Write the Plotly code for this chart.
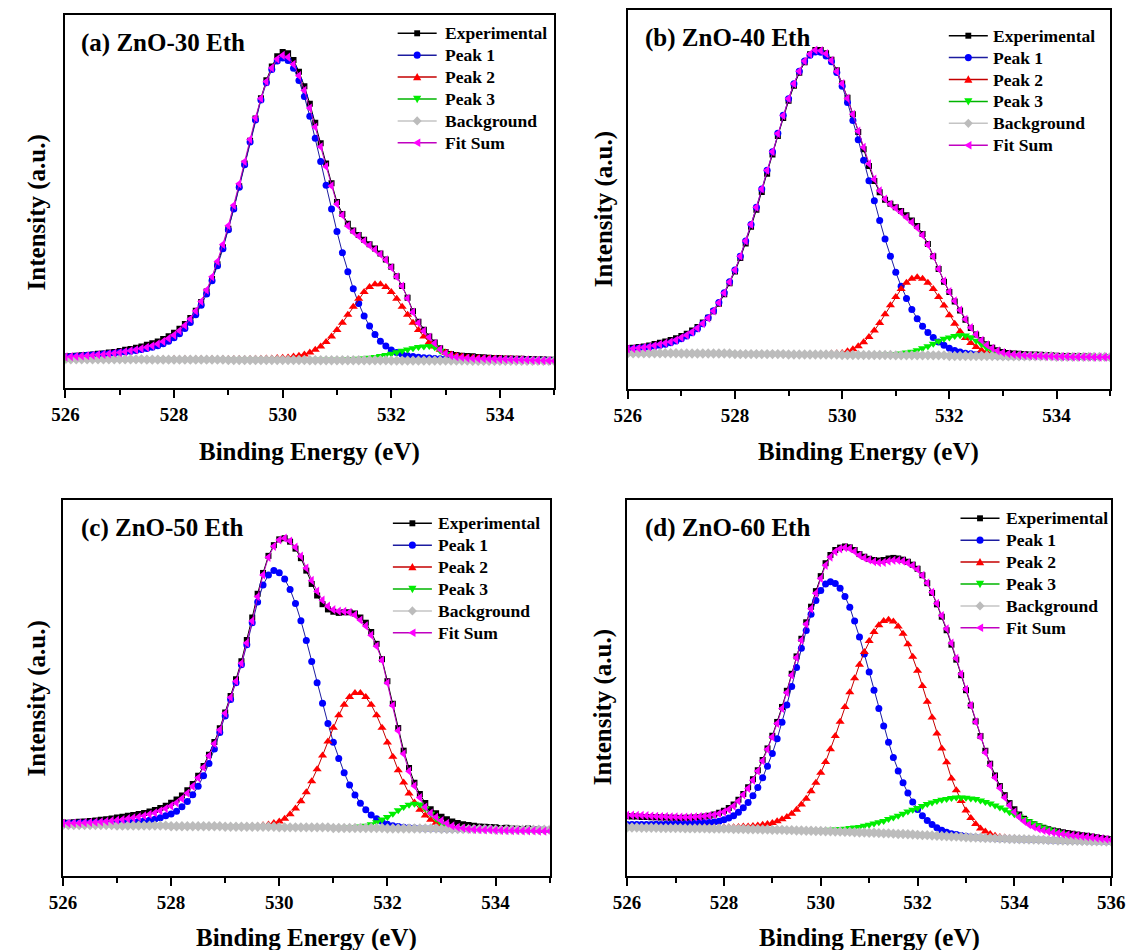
import plotly.graph_objects as go

FONT = "Liberation Serif, Times New Roman, serif"

# Binding-energy scan grids (0.1 eV step)
ENERGY_535 = [round(526 + 0.1 * i, 1) for i in range(91)]
ENERGY_536 = [round(526 + 0.1 * i, 1) for i in range(101)]

X_TICKS_535 = [526, 528, 530, 532, 534]
X_TICKS_536 = [526, 528, 530, 532, 534, 536]

SERIES_NAMES = ["Experimental", "Peak 1", "Peak 2", "Peak 3", "Background", "Fit Sum"]
PANEL_TITLES = ["(a) ZnO-30 Eth", "(b) ZnO-40 Eth", "(c) ZnO-50 Eth", "(d) ZnO-60 Eth"]
X_TITLE = "Binding Energy (eV)"
Y_TITLE = "Intensity (a.u.)"

# ---------------- (a) ZnO-30 Eth ----------------
EXP_A = [1.2, 1.2, 1.4, 1.5, 1.6, 1.8, 2.0, 2.1, 2.4, 2.6,
         2.9, 3.3, 3.6, 4.0, 4.4, 4.9, 5.4, 6.0, 6.8, 7.7,
         8.8, 10.1, 11.7, 13.6, 16.0, 18.8, 22.2, 26.3, 31.1, 36.6,
         42.6, 49.3, 56.4, 63.8, 71.2, 78.4, 85.0, 90.8, 95.3, 98.6,
         100.0, 99.6, 97.4, 93.6, 88.9, 83.2, 77.0, 70.4, 63.8, 57.4,
         51.3, 47.4, 44.2, 42.0, 40.6, 39.0, 37.6, 36.2, 34.6, 32.6,
         30.3, 27.2, 24.0, 20.2, 15.8, 12.4, 9.8, 7.6, 5.7, 3.8,
         2.6, 1.9, 1.6, 1.4, 1.3, 1.2, 1.0, 0.9, 0.7, 0.6,
         0.6, 0.5, 0.5, 0.4, 0.4, 0.3, 0.3, 0.2, 0.2, 0.1,
         0.1]
P1_A = [1.0, 1.1, 1.2, 1.3, 1.5, 1.6, 1.7, 1.9, 2.0, 2.2,
        2.4, 2.6, 2.8, 3.1, 3.4, 3.7, 4.1, 4.6, 5.3, 6.1,
        7.2, 8.5, 10.2, 12.2, 14.7, 17.8, 21.4, 25.7, 30.6, 36.1,
        42.3, 49.0, 56.1, 63.4, 70.8, 77.9, 84.4, 90.0, 94.3, 97.1,
        98.0, 97.2, 94.7, 90.7, 85.5, 79.1, 72.0, 64.4, 56.7, 49.0,
        41.7, 34.8, 28.6, 23.1, 18.3, 14.3, 11.0, 8.3, 6.1, 4.5,
        3.2, 2.4, 1.8, 1.4, 1.1, 0.9, 0.7, 0.6, 0.5, 0.4,
        0.3, 0.3, 0.2, 0.2, 0.2, 0.1, 0.1, 0.1, 0.1, 0.1,
        0.1, 0.0, 0.0, 0.0, 0.0, 0.0, -0.1, -0.1, -0.1, -0.1,
        -0.2]
P2_A = [0.2, 0.2, 0.2, 0.2, 0.2, 0.2, 0.2, 0.2, 0.2, 0.2,
        0.2, 0.2, 0.2, 0.2, 0.2, 0.2, 0.2, 0.2, 0.2, 0.2,
        0.3, 0.3, 0.3, 0.3, 0.3, 0.3, 0.3, 0.3, 0.3, 0.3,
        0.3, 0.3, 0.3, 0.3, 0.3, 0.4, 0.4, 0.5, 0.5, 0.6,
        0.7, 0.8, 1.1, 1.4, 1.8, 2.4, 3.3, 4.4, 5.8, 7.6,
        9.7, 12.1, 14.7, 17.3, 19.9, 22.1, 23.7, 24.6, 24.6, 23.7,
        22.1, 19.9, 17.3, 14.7, 12.1, 9.7, 7.6, 5.8, 4.4, 3.3,
        2.4, 1.8, 1.4, 1.1, 0.8, 0.7, 0.6, 0.5, 0.5, 0.4,
        0.4, 0.3, 0.3, 0.2, 0.2, 0.1, 0.1, 0.0, 0.0, 0.0,
        -0.1]
P3_A = [0.2, 0.2, 0.2, 0.2, 0.2, 0.2, 0.2, 0.2, 0.2, 0.2,
        0.2, 0.2, 0.2, 0.2, 0.2, 0.2, 0.2, 0.2, 0.2, 0.2,
        0.1, 0.1, 0.1, 0.1, 0.1, 0.1, 0.1, 0.1, 0.1, 0.1,
        0.1, 0.1, 0.1, 0.1, 0.1, 0.1, 0.1, 0.1, 0.1, 0.1,
        0.0, 0.0, 0.0, 0.0, 0.0, 0.0, 0.1, 0.1, 0.1, 0.1,
        0.1, 0.1, 0.2, 0.3, 0.4, 0.5, 0.7, 1.0, 1.3, 1.6,
        2.0, 2.5, 3.0, 3.4, 3.8, 4.2, 4.4, 4.5, 4.1, 3.0,
        1.9, 1.0, 0.5, 0.3, 0.2, 0.1, 0.0, 0.0, 0.0, -0.1,
        -0.1, -0.1, -0.1, -0.2, -0.2, -0.2, -0.2, -0.2, -0.3, -0.3,
        -0.3]
BG_A = [0.2, 0.2, 0.2, 0.2, 0.2, 0.2, 0.2, 0.2, 0.2, 0.2,
        0.2, 0.2, 0.2, 0.2, 0.2, 0.1, 0.1, 0.1, 0.1, 0.1,
        0.1, 0.1, 0.1, 0.1, 0.1, 0.1, 0.1, 0.1, 0.1, 0.1,
        0.0, 0.0, 0.0, 0.0, 0.0, 0.0, 0.0, 0.0, 0.0, 0.0,
        0.0, 0.0, 0.0, 0.0, 0.0, -0.1, -0.1, -0.1, -0.1, -0.1,
        -0.1, -0.1, -0.1, -0.1, -0.1, -0.1, -0.1, -0.1, -0.1, -0.1,
        -0.2, -0.2, -0.2, -0.2, -0.2, -0.2, -0.2, -0.2, -0.2, -0.2,
        -0.2, -0.2, -0.2, -0.2, -0.2, -0.3, -0.3, -0.3, -0.3, -0.3,
        -0.3, -0.3, -0.3, -0.3, -0.3, -0.3, -0.3, -0.3, -0.3, -0.3,
        -0.3]
FIT_A = [1.0, 1.1, 1.2, 1.3, 1.4, 1.5, 1.7, 1.8, 2.0, 2.2,
         2.4, 2.7, 3.0, 3.3, 3.7, 4.1, 4.6, 5.2, 6.0, 7.0,
         8.1, 9.5, 11.2, 13.3, 15.9, 19.0, 22.7, 27.0, 32.0, 37.5,
         43.6, 50.2, 57.2, 64.4, 71.6, 78.6, 84.9, 90.4, 94.8, 97.7,
         98.9, 98.3, 96.0, 92.3, 87.5, 81.8, 75.6, 69.2, 62.8, 56.5,
         50.6, 47.0, 43.5, 41.6, 40.2, 38.6, 37.2, 35.8, 34.3, 32.5,
         30.0, 27.0, 24.0, 20.0, 15.5, 12.0, 9.4, 7.4, 5.4, 3.4,
         2.1, 1.4, 1.0, 0.8, 0.6, 0.5, 0.4, 0.4, 0.3, 0.3,
         0.2, 0.2, 0.1, 0.1, 0.0, 0.0, -0.1, -0.1, -0.2, -0.2,
         -0.3]

# ---------------- (b) ZnO-40 Eth ----------------
EXP_B = [2.6, 2.7, 2.9, 3.1, 3.4, 3.9, 4.3, 4.7, 5.2, 5.8,
         6.5, 7.3, 8.3, 9.5, 10.9, 12.5, 14.6, 17.1, 20.2, 23.8,
         27.6, 32.0, 36.8, 42.2, 47.8, 53.6, 59.6, 65.9, 71.9, 77.8,
         83.4, 88.3, 92.6, 96.0, 98.6, 100.0, 100.0, 99.0, 96.8, 93.4,
         89.1, 84.4, 79.0, 73.2, 67.6, 62.1, 57.2, 53.5, 51.1, 49.8,
         48.6, 47.4, 46.0, 44.3, 42.5, 39.9, 36.6, 32.6, 28.4, 24.3,
         20.9, 17.8, 14.9, 11.8, 9.1, 7.0, 5.2, 3.8, 2.7, 1.9,
         1.3, 1.0, 0.8, 0.7, 0.6, 0.5, 0.5, 0.4, 0.3, 0.2,
         0.1, 0.0, 0.0, -0.1, -0.1, -0.2, -0.2, -0.3, -0.3, -0.3,
         -0.4]
P1_B = [2.3, 2.3, 2.5, 2.7, 2.9, 3.2, 3.5, 3.8, 4.3, 4.9,
        5.6, 6.5, 7.6, 8.9, 10.5, 12.5, 14.8, 17.5, 20.7, 24.3,
        28.1, 32.6, 37.6, 43.0, 48.6, 54.6, 60.7, 66.8, 72.8, 78.7,
        84.1, 89.0, 93.1, 96.4, 98.3, 99.4, 99.3, 98.1, 96.2, 92.7,
        88.2, 82.9, 77.0, 70.7, 64.0, 57.3, 50.7, 44.3, 38.2, 32.6,
        27.4, 22.8, 18.8, 15.2, 12.2, 9.7, 7.7, 6.0, 4.6, 3.5,
        2.5, 1.8, 1.3, 0.9, 0.7, 0.5, 0.3, 0.2, 0.1, 0.0,
        -0.1, -0.1, -0.1, -0.1, -0.1, -0.1, -0.1, -0.1, -0.1, -0.1,
        -0.3, -0.3, -0.3, -0.3, -0.3, -0.3, -0.3, -0.3, -0.3, -0.3,
        -0.3]
P2_B = [0.9, 0.9, 0.9, 0.9, 0.9, 0.9, 0.9, 0.9, 0.9, 0.9,
        0.8, 0.8, 0.8, 0.8, 0.8, 0.8, 0.8, 0.8, 0.8, 0.8,
        0.6, 0.6, 0.6, 0.6, 0.6, 0.6, 0.6, 0.6, 0.6, 0.6,
        0.5, 0.5, 0.5, 0.5, 0.5, 0.5, 0.5, 0.6, 0.8, 0.9,
        1.0, 1.5, 2.2, 3.2, 4.5, 6.2, 8.3, 10.8, 13.6, 16.6,
        19.3, 21.9, 23.9, 25.2, 25.7, 25.2, 23.9, 21.9, 19.3, 16.5,
        13.3, 10.5, 8.0, 5.9, 4.2, 2.9, 1.9, 1.2, 0.7, 0.4,
        0.2, 0.0, -0.1, -0.1, -0.1, -0.1, -0.1, -0.1, -0.1, -0.1,
        -0.3, -0.3, -0.3, -0.3, -0.3, -0.3, -0.3, -0.3, -0.3, -0.3,
        -0.3]
P3_B = [0.9, 0.9, 0.9, 0.9, 0.9, 0.9, 0.9, 0.9, 0.9, 0.9,
        0.8, 0.8, 0.8, 0.8, 0.8, 0.8, 0.8, 0.8, 0.8, 0.8,
        0.6, 0.6, 0.6, 0.6, 0.6, 0.6, 0.6, 0.6, 0.6, 0.6,
        0.5, 0.5, 0.5, 0.5, 0.5, 0.5, 0.5, 0.5, 0.5, 0.5,
        0.3, 0.3, 0.3, 0.3, 0.3, 0.3, 0.3, 0.4, 0.5, 0.6,
        0.6, 0.8, 1.1, 1.4, 1.9, 2.5, 3.2, 4.0, 4.8, 5.6,
        6.0, 6.5, 6.8, 6.7, 6.1, 5.0, 3.8, 2.6, 1.6, 0.9,
        0.4, 0.1, 0.0, -0.1, -0.1, -0.1, -0.1, -0.1, -0.1, -0.1,
        -0.3, -0.3, -0.3, -0.3, -0.3, -0.3, -0.3, -0.3, -0.3, -0.3,
        -0.3]
BG_B = [0.9, 0.9, 0.9, 0.9, 0.9, 0.9, 0.9, 0.9, 0.9, 0.9,
        0.8, 0.8, 0.8, 0.8, 0.8, 0.8, 0.8, 0.8, 0.8, 0.8,
        0.6, 0.6, 0.6, 0.6, 0.6, 0.6, 0.6, 0.6, 0.6, 0.6,
        0.5, 0.5, 0.5, 0.5, 0.5, 0.5, 0.5, 0.5, 0.5, 0.5,
        0.3, 0.3, 0.3, 0.3, 0.3, 0.3, 0.3, 0.3, 0.3, 0.3,
        0.2, 0.2, 0.2, 0.2, 0.2, 0.2, 0.2, 0.2, 0.2, 0.2,
        0.0, 0.0, 0.0, 0.0, 0.0, 0.0, 0.0, 0.0, 0.0, 0.0,
        -0.1, -0.1, -0.1, -0.1, -0.1, -0.1, -0.1, -0.1, -0.1, -0.1,
        -0.3, -0.3, -0.3, -0.3, -0.3, -0.3, -0.3, -0.3, -0.3, -0.3,
        -0.4]
FIT_B = [2.3, 2.4, 2.6, 2.8, 3.0, 3.4, 3.8, 4.2, 4.6, 5.2,
         6.0, 6.8, 7.8, 9.1, 10.6, 12.4, 14.7, 17.4, 20.6, 24.2,
         28.1, 32.6, 37.6, 43.0, 48.6, 54.6, 60.7, 66.8, 72.7, 78.6,
         84.1, 89.0, 93.1, 96.4, 98.7, 100.0, 99.8, 98.8, 96.6, 93.0,
         89.0, 84.2, 79.0, 73.5, 68.2, 62.8, 57.8, 54.0, 51.3, 49.6,
         48.3, 46.9, 45.3, 43.7, 41.9, 39.5, 36.3, 32.5, 28.4, 24.5,
         21.0, 18.0, 15.0, 12.0, 9.3, 7.0, 5.1, 3.6, 2.5, 1.7,
         1.1, 0.7, 0.5, 0.3, 0.2, 0.1, 0.0, 0.0, -0.1, -0.1,
         -0.2, -0.2, -0.2, -0.3, -0.3, -0.3, -0.3, -0.4, -0.4, -0.4,
         -0.4]

# ---------------- (c) ZnO-50 Eth ----------------
EXP_C = [1.8, 1.7, 1.9, 2.0, 2.1, 2.3, 2.5, 2.7, 2.9, 3.2,
         3.5, 3.8, 4.1, 4.4, 4.7, 5.1, 5.6, 6.1, 6.8, 7.6,
         8.6, 9.7, 11.1, 12.9, 15.1, 17.9, 21.3, 25.2, 29.6, 34.3,
         39.8, 45.5, 51.3, 57.5, 64.8, 72.6, 80.8, 88.0, 93.9, 97.6,
         99.6, 100.0, 98.8, 96.4, 93.1, 88.8, 84.2, 80.2, 77.2, 75.4,
         74.6, 74.2, 74.4, 74.4, 74.0, 72.6, 70.8, 67.6, 63.5, 58.2,
         50.6, 42.8, 34.4, 26.6, 20.6, 15.5, 11.6, 8.5, 6.4, 5.0,
         3.8, 2.9, 2.1, 1.6, 1.2, 0.9, 0.7, 0.4, 0.3, 0.2,
         0.1, -0.1, 0.0, -0.3, -0.4, -0.5, -0.3, -0.6, -0.7, -0.8,
         -0.8]
P1_C = [1.5, 1.5, 1.5, 1.6, 1.6, 1.6, 1.7, 1.7, 1.8, 1.8,
        1.7, 1.8, 1.9, 2.0, 2.2, 2.4, 2.6, 2.9, 3.4, 4.1,
        4.7, 5.7, 7.2, 9.0, 11.4, 14.3, 17.9, 22.2, 27.2, 32.9,
        38.6, 44.3, 50.1, 56.3, 63.2, 70.8, 78.0, 83.8, 87.3, 88.8,
        88.1, 85.9, 82.3, 77.4, 71.5, 64.7, 57.4, 50.1, 43.0, 36.0,
        29.5, 23.9, 19.0, 14.7, 11.3, 8.4, 6.2, 4.4, 3.1, 2.1,
        1.2, 0.7, 0.4, 0.1, 0.0, -0.1, -0.2, -0.3, -0.3, -0.3,
        -0.5, -0.5, -0.5, -0.5, -0.5, -0.5, -0.5, -0.5, -0.5, -0.5,
        -0.7, -0.7, -0.7, -0.7, -0.7, -0.7, -0.7, -0.7, -0.7, -0.7,
        -0.7]
P2_C = [0.9, 0.9, 0.9, 0.9, 0.9, 0.9, 0.9, 0.9, 0.9, 0.9,
        0.7, 0.7, 0.7, 0.7, 0.7, 0.7, 0.7, 0.7, 0.7, 0.7,
        0.5, 0.5, 0.5, 0.5, 0.5, 0.5, 0.5, 0.5, 0.5, 0.5,
        0.3, 0.3, 0.3, 0.3, 0.4, 0.5, 0.6, 0.8, 1.1, 1.6,
        2.1, 3.1, 4.6, 6.6, 9.1, 12.2, 16.0, 20.2, 24.9, 29.8,
        34.5, 38.8, 42.5, 45.1, 46.5, 46.5, 45.1, 42.5, 38.8, 34.5,
        29.4, 24.5, 19.8, 15.6, 11.8, 8.7, 6.2, 4.2, 2.7, 1.7,
        0.8, 0.3, 0.0, -0.2, -0.3, -0.4, -0.5, -0.5, -0.5, -0.5,
        -0.7, -0.7, -0.7, -0.7, -0.7, -0.7, -0.7, -0.7, -0.7, -0.7,
        -0.7]
P3_C = [0.9, 0.9, 0.9, 0.9, 0.9, 0.9, 0.9, 0.9, 0.9, 0.9,
        0.7, 0.7, 0.7, 0.7, 0.7, 0.7, 0.7, 0.7, 0.7, 0.7,
        0.5, 0.5, 0.5, 0.5, 0.5, 0.5, 0.5, 0.5, 0.5, 0.5,
        0.3, 0.3, 0.3, 0.3, 0.3, 0.3, 0.3, 0.3, 0.3, 0.3,
        0.1, 0.1, 0.1, 0.1, 0.1, 0.1, 0.1, 0.1, 0.1, 0.1,
        -0.1, -0.1, 0.0, 0.1, 0.2, 0.4, 0.7, 1.2, 1.9, 2.8,
        3.7, 4.8, 6.0, 7.1, 7.9, 8.3, 8.0, 6.6, 4.8, 3.1,
        1.4, 0.5, -0.1, -0.3, -0.4, -0.5, -0.5, -0.5, -0.5, -0.5,
        -0.7, -0.7, -0.7, -0.7, -0.7, -0.7, -0.7, -0.7, -0.7, -0.7,
        -0.7]
BG_C = [0.9, 0.9, 0.9, 0.9, 0.9, 0.9, 0.9, 0.9, 0.9, 0.9,
        0.7, 0.7, 0.7, 0.7, 0.7, 0.7, 0.7, 0.7, 0.7, 0.7,
        0.5, 0.5, 0.5, 0.5, 0.5, 0.5, 0.5, 0.5, 0.5, 0.5,
        0.3, 0.3, 0.3, 0.3, 0.3, 0.3, 0.3, 0.3, 0.3, 0.3,
        0.1, 0.1, 0.1, 0.1, 0.1, 0.1, 0.1, 0.1, 0.1, 0.1,
        -0.1, -0.1, -0.1, -0.1, -0.1, -0.1, -0.1, -0.1, -0.1, -0.1,
        -0.3, -0.3, -0.3, -0.3, -0.3, -0.3, -0.3, -0.3, -0.3, -0.3,
        -0.5, -0.5, -0.5, -0.5, -0.5, -0.5, -0.5, -0.5, -0.5, -0.5,
        -0.7, -0.7, -0.7, -0.7, -0.7, -0.7, -0.7, -0.7, -0.7, -0.7,
        -0.7]
FIT_C = [1.5, 1.5, 1.6, 1.6, 1.7, 1.8, 1.9, 2.0, 2.2, 2.4,
         2.6, 2.8, 3.1, 3.4, 3.7, 4.1, 4.6, 5.1, 5.8, 6.6,
         7.5, 8.6, 10.0, 11.9, 14.3, 17.2, 20.8, 24.8, 29.0, 33.8,
         39.5, 45.0, 50.6, 56.8, 63.8, 71.4, 79.8, 87.3, 93.4, 97.2,
         99.4, 100.0, 99.0, 96.9, 93.8, 89.7, 85.4, 81.7, 78.6, 76.5,
         75.3, 74.8, 74.7, 74.4, 73.5, 71.7, 69.7, 66.5, 62.7, 57.8,
         50.0, 42.2, 33.5, 25.5, 19.5, 14.4, 10.4, 7.1, 5.0, 3.6,
         2.4, 1.5, 0.6, 0.1, -0.2, -0.5, -0.6, -0.7, -0.8, -0.8,
         -0.9, -0.9, -1.0, -1.0, -1.0, -1.1, -1.1, -1.1, -1.2, -1.2,
         -1.2]

# ---------------- (d) ZnO-60 Eth ----------------
EXP_D = [8.6, 8.5, 8.5, 8.4, 8.4, 8.3, 8.3, 8.2, 8.2, 8.1,
         8.1, 8.0, 8.1, 8.1, 8.2, 8.3, 8.5, 8.8, 9.2, 9.8,
         10.5, 11.4, 12.6, 14.2, 16.2, 18.5, 21.2, 24.3, 27.8, 31.7,
         36.0, 40.7, 45.8, 51.3, 57.1, 63.0, 69.0, 74.6, 79.9, 85.2,
         90.3, 94.7, 97.5, 99.2, 100.0, 100.4, 100.1, 99.2, 97.8, 96.9,
         96.2, 95.8, 95.6, 95.8, 96.3, 96.5, 96.3, 95.9, 95.2, 94.2,
         92.8, 90.6, 87.9, 84.6, 80.7, 76.5, 71.9, 67.0, 61.9, 56.6,
         51.5, 46.3, 40.9, 35.9, 30.9, 26.5, 22.5, 18.9, 15.8, 13.1,
         11.0, 9.2, 7.8, 6.7, 5.9, 5.2, 4.7, 4.2, 3.8, 3.5,
         3.2, 2.9, 2.7, 2.4, 2.2, 2.0, 1.7, 1.5, 1.2, 1.0,
         0.8]
P1_D = [5.8, 5.8, 5.8, 5.8, 5.8, 5.8, 5.9, 5.8, 5.9, 5.9,
        6.0, 6.0, 6.0, 6.1, 6.2, 6.3, 6.4, 6.5, 6.7, 6.9,
        7.4, 8.0, 8.8, 10.0, 11.5, 13.3, 15.6, 18.4, 21.7, 25.6,
        30.0, 35.0, 40.6, 46.5, 52.8, 59.2, 65.8, 71.8, 77.3, 82.0,
        85.4, 87.6, 88.4, 87.8, 86.2, 83.4, 79.7, 75.0, 69.6, 63.8,
        57.7, 51.5, 45.3, 39.3, 33.8, 28.6, 24.0, 20.0, 16.5, 13.5,
        10.9, 8.8, 7.2, 5.8, 4.7, 3.9, 3.2, 2.7, 2.4, 2.1,
        1.8, 1.6, 1.5, 1.3, 1.2, 1.2, 1.1, 1.0, 1.0, 0.9,
        0.9, 0.8, 0.8, 0.7, 0.7, 0.6, 0.6, 0.5, 0.5, 0.4,
        0.4, 0.3, 0.3, 0.3, 0.2, 0.2, 0.1, 0.1, 0.1, 0.0,
        0.0]
P2_D = [5.0, 5.0, 5.0, 4.9, 4.9, 4.9, 4.9, 4.9, 4.9, 4.9,
        4.9, 4.9, 4.8, 4.8, 4.8, 4.9, 4.9, 4.8, 4.8, 4.8,
        4.9, 4.9, 4.9, 5.0, 5.1, 5.1, 5.3, 5.5, 5.7, 6.0,
        6.3, 6.9, 7.6, 8.4, 9.5, 10.8, 12.6, 14.6, 17.1, 20.0,
        23.4, 27.1, 31.4, 35.9, 40.8, 45.8, 50.8, 55.6, 60.2, 64.5,
        68.2, 71.3, 73.6, 75.0, 75.5, 74.9, 73.2, 70.7, 67.1, 62.9,
        58.1, 52.9, 47.6, 42.2, 36.8, 31.7, 27.0, 21.5, 17.5, 13.8,
        10.6, 8.0, 6.0, 4.5, 3.4, 2.6, 2.0, 1.6, 1.4, 1.2,
        1.1, 1.0, 0.9, 0.8, 0.7, 0.6, 0.6, 0.5, 0.5, 0.4,
        0.4, 0.3, 0.3, 0.3, 0.2, 0.2, 0.1, 0.1, 0.1, 0.0,
        0.0]
P3_D = [4.8, 4.8, 4.8, 4.7, 4.7, 4.7, 4.7, 4.6, 4.6, 4.6,
        4.6, 4.6, 4.5, 4.5, 4.5, 4.5, 4.5, 4.4, 4.4, 4.4,
        4.4, 4.4, 4.3, 4.3, 4.3, 4.2, 4.2, 4.2, 4.1, 4.1,
        4.0, 4.0, 4.0, 3.9, 3.9, 3.8, 3.9, 3.8, 3.9, 3.8,
        3.9, 3.9, 4.0, 4.1, 4.3, 4.4, 4.6, 4.8, 5.0, 5.4,
        5.7, 6.2, 6.6, 7.0, 7.7, 8.2, 8.8, 9.5, 10.2, 10.8,
        11.4, 12.1, 12.8, 13.3, 13.8, 14.2, 14.5, 14.8, 15.0, 15.0,
        14.9, 14.7, 14.5, 14.0, 13.5, 13.0, 12.3, 11.6, 10.9, 10.0,
        9.3, 8.5, 7.7, 6.9, 6.2, 5.5, 4.8, 4.2, 3.7, 3.1,
        2.7, 2.2, 1.9, 1.6, 1.3, 1.1, 0.8, 0.6, 0.5, 0.3,
        0.2]
BG_D = [4.8, 4.8, 4.8, 4.7, 4.7, 4.7, 4.7, 4.6, 4.6, 4.6,
        4.6, 4.6, 4.5, 4.5, 4.5, 4.5, 4.5, 4.4, 4.4, 4.4,
        4.4, 4.4, 4.3, 4.3, 4.3, 4.2, 4.2, 4.2, 4.1, 4.1,
        4.0, 4.0, 4.0, 3.9, 3.9, 3.8, 3.8, 3.7, 3.7, 3.6,
        3.6, 3.5, 3.5, 3.4, 3.4, 3.3, 3.3, 3.2, 3.1, 3.1,
        3.0, 3.0, 2.9, 2.8, 2.8, 2.7, 2.6, 2.6, 2.5, 2.4,
        2.3, 2.2, 2.2, 2.1, 2.0, 1.9, 1.8, 1.7, 1.7, 1.6,
        1.5, 1.4, 1.4, 1.3, 1.2, 1.2, 1.1, 1.0, 1.0, 0.9,
        0.9, 0.8, 0.8, 0.7, 0.7, 0.6, 0.6, 0.5, 0.5, 0.4,
        0.4, 0.3, 0.3, 0.3, 0.2, 0.2, 0.1, 0.1, 0.1, 0.0,
        0.0]
FIT_D = [9.0, 9.0, 8.9, 8.9, 8.8, 8.7, 8.6, 8.5, 8.5, 8.4,
         8.4, 8.3, 8.3, 8.3, 8.4, 8.5, 8.6, 8.8, 9.1, 9.5,
         10.1, 10.9, 12.1, 13.8, 15.9, 18.1, 20.9, 24.0, 27.5, 31.4,
         35.6, 40.2, 45.3, 50.7, 56.6, 62.6, 68.5, 74.0, 79.2, 84.5,
         89.5, 94.0, 96.8, 98.6, 99.6, 100.0, 99.7, 98.7, 97.4, 96.5,
         95.8, 95.2, 94.9, 95.0, 95.4, 95.7, 95.7, 95.4, 94.8, 93.9,
         92.6, 90.6, 88.0, 84.8, 81.0, 76.9, 72.4, 67.5, 62.3, 57.0,
         51.8, 46.3, 40.7, 35.5, 30.3, 25.9, 21.8, 18.2, 15.0, 12.3,
         10.1, 8.3, 6.9, 5.8, 5.0, 4.3, 3.8, 3.4, 3.1, 2.8,
         2.6, 2.4, 2.2, 2.0, 1.8, 1.6, 1.4, 1.2, 1.0, 0.8,
         0.6]

# ---------------- styling ----------------
SERIES_STYLE = [
    # symbol, marker colour, line colour, marker size
    ("square", "#000000", "#000000", 6),
    ("circle", "#0000ff", "#1c1ca0", 7),
    ("triangle-up", "#ff0000", "#c40000", 8),
    ("triangle-down", "#00ee00", "#00b400", 8),
    ("diamond", "#bcbcbc", "#c4c4c4", 8),
    ("triangle-left", "#ff00ff", "#c000c0", 8),
]

W, H = 1142, 950
KEY_ROW_GAP = 21.9
KEY_LINE_LEN = 40


def px_x(v):
    return v / W


def px_y(v):
    return 1 - v / H


PANELS = [
    dict(x=ENERGY_535, series=[EXP_A, P1_A, P2_A, P3_A, BG_A, FIT_A],
         xdom=(52.7, 553.8), ydom=(15.0, 388.3), xrange=(526, 535), yrange=(-9.2, 112.0),
         ticks=X_TICKS_535, key=(393.3, 439.3, 33.3), label_xy=(67, 43),
         ytitle_xy=(24, 212), xtitle_y=452),
    dict(x=ENERGY_535, series=[EXP_B, P1_B, P2_B, P3_B, BG_B, FIT_B],
         xdom=(629.2, 1123.7), ydom=(10.0, 389.3), xrange=(526, 535), yrange=(-10.9, 113.1),
         ticks=X_TICKS_535, key=(958.3, 1001.9, 35.7), label_xy=(645, 38),
         ytitle_xy=(605, 209), xtitle_y=452),
    dict(x=ENERGY_535, series=[EXP_C, P1_C, P2_C, P3_C, BG_C, FIT_C],
         xdom=(50.2, 549.1), ydom=(500.0, 875.7), xrange=(526, 535), yrange=(-16.6, 113.2),
         ticks=X_TICKS_535, key=(388.4, 432.7, 523.3), label_xy=(67, 528),
         ytitle_xy=(24, 698), xtitle_y=938),
    dict(x=ENERGY_536, series=[EXP_D, P1_D, P2_D, P3_D, BG_D, FIT_D],
         xdom=(628.5, 1124.8), ydom=(500.0, 876.0), xrange=(526, 536), yrange=(-11.7, 116.2),
         ticks=X_TICKS_536, key=(970.3, 1014.6, 518.3), label_xy=(645, 528),
         ytitle_xy=(604, 707), xtitle_y=938),
]

for p in PANELS:
    for s in p["series"]:
        if len(s) != len(p["x"]):
            raise ValueError(f"length mismatch {len(s)} vs {len(p['x'])}")


def key_symbol(symbol, cx, cy, color):
    """Legend-key marker drawn as a layout shape centred on (cx, cy) in pixels."""
    base = dict(xref="paper", yref="paper", fillcolor=color, line=dict(width=0), layer="above")
    if symbol == "square":
        r = 3.0
        return dict(base, type="rect", x0=px_x(cx - r), x1=px_x(cx + r), y0=px_y(cy + r), y1=px_y(cy - r))
    if symbol == "circle":
        r = 3.6
        return dict(base, type="circle", x0=px_x(cx - r), x1=px_x(cx + r), y0=px_y(cy + r), y1=px_y(cy - r))
    pts = {
        "triangle-up": [(-4.2, 3.2), (4.2, 3.2), (0, -4.2)],
        "triangle-down": [(-4.2, -3.2), (4.2, -3.2), (0, 4.2)],
        "diamond": [(-4.6, 0), (0, -4.6), (4.6, 0), (0, 4.6)],
        "triangle-left": [(-4.2, 0), (3.2, -4.2), (3.2, 4.2)],
    }[symbol]
    path = "M" + " L".join(f"{px_x(cx + dx):.6f},{px_y(cy + dy):.6f}" for dx, dy in pts) + " Z"
    return dict(base, type="path", path=path)


fig = go.Figure()
layout = dict(
    width=W, height=H,
    margin=dict(l=0, r=0, t=0, b=0),
    paper_bgcolor="white", plot_bgcolor="white",
    showlegend=False,
    annotations=[], shapes=[],
)

bold = dict(family=FONT, color="black", weight="bold")

for i, p in enumerate(PANELS):
    n = "" if i == 0 else str(i + 1)
    xa, ya = "x" + n, "y" + n
    for name, ys, (sym, mcol, lcol, msize) in zip(SERIES_NAMES, p["series"], SERIES_STYLE):
        fig.add_trace(go.Scatter(
            x=p["x"], y=ys, name=name, mode="lines+markers",
            xaxis=xa, yaxis=ya,
            line=dict(color=lcol, width=1),
            marker=dict(symbol=sym, color=mcol, size=msize, line=dict(width=0)),
        ))

    layout["xaxis" + n] = dict(
        domain=[px_x(p["xdom"][0]), px_x(p["xdom"][1])],
        range=list(p["xrange"]), anchor=ya,
        tickmode="array", tickvals=p["ticks"], ticktext=[str(t) for t in p["ticks"]],
        ticks="outside", ticklen=8, tickwidth=2, tickcolor="black",
        minor=dict(ticks="outside", ticklen=5, tickwidth=2, tickcolor="black",
                   dtick=1, tick0=526, showgrid=False),
        showline=True, linewidth=2, linecolor="black", mirror=True,
        showgrid=False, zeroline=False,
        tickfont=dict(bold, size=19),
    )
    layout["yaxis" + n] = dict(
        domain=[px_y(p["ydom"][1]), px_y(p["ydom"][0])],
        range=list(p["yrange"]), anchor=xa,
        showticklabels=False, ticks="",
        showline=True, linewidth=2, linecolor="black", mirror=True,
        showgrid=False, zeroline=False,
    )

    # legend block: line + marker key and bold label per series
    kx, tx, ky = p["key"]
    for k, (name, (sym, mcol, lcol, _)) in enumerate(zip(SERIES_NAMES, SERIES_STYLE)):
        cy = ky + k * KEY_ROW_GAP
        layout["shapes"].append(dict(
            type="line", xref="paper", yref="paper",
            x0=px_x(kx), x1=px_x(kx + KEY_LINE_LEN), y0=px_y(cy), y1=px_y(cy),
            line=dict(color=lcol, width=1.5), layer="above"))
        layout["shapes"].append(key_symbol(sym, kx + KEY_LINE_LEN / 2, cy, mcol))
        layout["annotations"].append(dict(
            text=name, x=px_x(tx), y=px_y(cy), xref="paper", yref="paper",
            xanchor="left", yanchor="middle", showarrow=False,
            font=dict(bold, size=17.5)))

    layout["annotations"] += [
        dict(text=PANEL_TITLES[i], x=px_x(p["label_xy"][0]), y=px_y(p["label_xy"][1]),
             xref="paper", yref="paper", xanchor="left", yanchor="middle",
             showarrow=False, font=dict(bold, size=25)),
        dict(text=Y_TITLE, x=px_x(p["ytitle_xy"][0]), y=px_y(p["ytitle_xy"][1]),
             xref="paper", yref="paper", xanchor="center", yanchor="middle",
             textangle=-90, showarrow=False, font=dict(bold, size=25)),
        dict(text=X_TITLE, x=px_x((p["xdom"][0] + p["xdom"][1]) / 2), y=px_y(p["xtitle_y"]),
             xref="paper", yref="paper", xanchor="center", yanchor="middle",
             showarrow=False, font=dict(bold, size=25)),
    ]

fig.update_layout(**layout)
fig.write_html("out.html", config={"displayModeBar": False})
